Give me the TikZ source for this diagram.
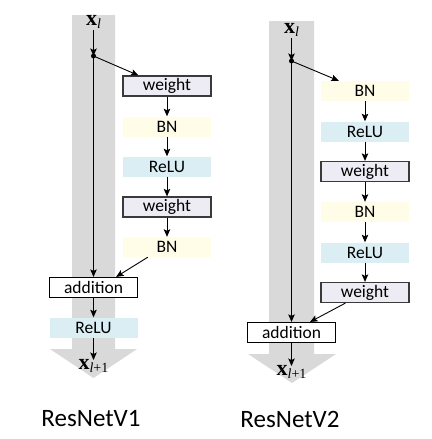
\documentclass[tikz,border=0pt]{standalone}
\usepackage{fontspec}
\setmainfont{Carlito}
\newfontfamily\serifx{Liberation Serif}
\usetikzlibrary{arrows.meta,calc}
\definecolor{colgray}{HTML}{D9D9D9}
\definecolor{wfill}{HTML}{EDEBF3}
\definecolor{bnfill}{HTML}{FFFDE8}
\definecolor{relufill}{HTML}{DBEEF4}
\definecolor{wborder}{HTML}{3A3A3A}
\newcommand{\xl}{{\serifx\bfseries x\raisebox{-0.35ex}{\fontsize{14}{14}\selectfont\mdseries\itshape l}}}
\newcommand{\xlp}{{\serifx\bfseries x\raisebox{-0.35ex}{\fontsize{14}{14}\selectfont\mdseries{\itshape l}+1}}}
\begin{document}
\begin{tikzpicture}[x=1pt,y=-1pt,
  blk/.style={minimum width=88pt,minimum height=20pt,inner sep=0pt,font=\fontsize{17.5}{18}\selectfont},
  wbox/.style={blk,fill=wfill,draw=wborder,line width=1.2pt},
  bnbox/.style={blk,fill=bnfill},
  relubox/.style={blk,fill=relufill},
  addbox/.style={blk,fill=white,draw=black,line width=1.2pt},
  lbl/.style={inner sep=0pt,font=\fontsize{22}{22}\selectfont},
  conn/.style={-{Stealth[length=7.5pt,width=6.5pt,inset=1.5pt]},line width=0.9pt,black},
  title/.style={inner sep=0pt,font=\fontsize{25}{28}\selectfont}]
\useasboundingbox (0,0) rectangle (431,439);
% gray columns
\fill[colgray] (72,15) -- (115,15) -- (115,349) -- (137,349) -- (93.5,378) -- (50,349) -- (72,349) -- cycle;
\fill[colgray] (269,21) -- (314,21) -- (314,354) -- (336,354) -- (292,383) -- (248,354) -- (269,354) -- cycle;
% left
\node[lbl] (xa) at (93.5,22) {\xl};
\fill (93.5,56) circle (2.5pt);
\coordinate (da) at (93.5,56);
\node[wbox] (wa1) at (167,86) {weight};
\node[bnbox] (ba1) at (167,126.5) {BN};
\node[relubox] (ra1) at (167,166.5) {ReLU};
\node[wbox] (wa2) at (167,207) {weight};
\node[bnbox] (ba2) at (167,247) {BN};
\node[addbox] (adda) at (93.5,287.5) {addition};
\node[relubox] (ra2) at (93.5,327.5) {ReLU};
\node[lbl] (xa1) at (93.5,366) {\xlp};
\draw[conn] ($(xa.south)+(0,1)$) -- (da);
\draw[conn] (da) -- ($(wa1.north west)+(16,0)$);
\draw[conn] (wa1) -- (ba1);
\draw[conn] (ba1) -- (ra1);
\draw[conn] (ra1) -- (wa2);
\draw[conn] (wa2) -- (ba2);
\draw[conn] ($(ba2.south west)+(25,0)$) -- ($(adda.north east)+(-22,0)$);
\draw[conn] (da) -- (adda.north);
\draw[conn] (adda) -- (ra2);
\draw[conn] (ra2.south) -- ($(xa1.north)+(0,1)$);
% right
\node[lbl] (xb) at (291.5,30) {\xl};
\fill (291.5,61) circle (2.5pt);
\coordinate (db) at (291.5,61);
\node[bnbox] (bb1) at (365,91) {BN};
\node[relubox] (rb1) at (365,131.5) {ReLU};
\node[wbox] (wb1) at (365,171.5) {weight};
\node[bnbox] (bb2) at (365,212) {BN};
\node[relubox] (rb2) at (365,252.5) {ReLU};
\node[wbox] (wb2) at (365,292.5) {weight};
\node[addbox] (addb) at (291.5,332.5) {addition};
\node[lbl] (xb1) at (291.5,372) {\xlp};
\draw[conn] ($(xb.south)+(0,1)$) -- (db);
\draw[conn] (db) -- ($(bb1.north west)+(18,0)$);
\draw[conn] (bb1) -- (rb1);
\draw[conn] (rb1) -- (wb1);
\draw[conn] (wb1) -- (bb2);
\draw[conn] (bb2) -- (rb2);
\draw[conn] (rb2) -- (wb2);
\draw[conn] ($(wb2.south west)+(25,0)$) -- ($(addb.north east)+(-26,0)$);
\draw[conn] (db) -- (addb.north);
\draw[conn] (addb.south) -- ($(xb1.north)+(0,1)$);
% titles
\node[title] (t1) at (91,419) {ResNetV1};
\node[title] (t2) at (290,419) {ResNetV2};
\end{tikzpicture}
\end{document}
